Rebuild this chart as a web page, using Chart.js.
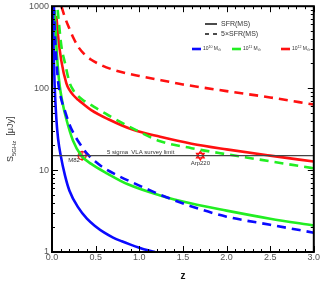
<!DOCTYPE html>
<html>
<head>
<meta charset="utf-8">
<script src="https://cdn.jsdelivr.net/npm/chart.js@4.4.1/dist/chart.umd.min.js"></script>
<style>
  html, body { margin: 0; padding: 0; background: #fff; }
  #wrap { width: 320px; height: 284px; position: relative; }
</style>
</head>
<body>
<div id="wrap"><canvas id="c"></canvas></div>
<script>
// redshift / flux readings (S in microJy)
var blueSfrZ = [0.01, 0.015, 0.02, 0.03, 0.05, 0.07, 0.1, 0.15, 0.2, 0.3, 0.4, 0.5, 0.6, 0.7, 0.8, 0.9, 1.0, 1.1, 1.18];
var blueSfrS = [1000, 450, 250, 110, 42, 24, 15, 8.5, 5.6, 3.5, 2.55, 2.05, 1.72, 1.5, 1.35, 1.23, 1.13, 1.05, 1.0];
var blue5Z = [0.022, 0.03, 0.04, 0.05, 0.07, 0.1, 0.15, 0.2, 0.26, 0.3, 0.41, 0.5, 0.6, 0.75, 0.93, 1.1, 1.24, 1.6, 2.0, 2.5, 3.0];
var blue5S = [1000, 560, 330, 220, 120, 78, 52, 36, 26.5, 22.5, 15.5, 12.6, 10.5, 8.6, 7.0, 5.8, 5.0, 3.6, 2.7, 2.15, 1.72];
var greenSfrZ = [0.031, 0.05, 0.065, 0.088, 0.12, 0.164, 0.24, 0.336, 0.45, 0.64, 0.87, 1.24, 1.6, 2.0, 2.5, 3.0];
var greenSfrS = [900, 330, 190, 107, 67, 42, 23, 15, 11.9, 9.0, 6.7, 4.9, 3.9, 3.2, 2.55, 2.1];
var green5Z = [0.065, 0.107, 0.15, 0.2, 0.25, 0.3, 0.35, 0.45, 0.53, 0.64, 0.93, 1.24, 1.6, 2.0, 2.5, 3.0];
var green5S = [900, 330, 200, 118, 92, 80, 72, 62, 55, 47, 32, 22.5, 18.5, 15.6, 12.8, 10.5];
var redSfrZ = [0.05, 0.07, 0.107, 0.164, 0.2, 0.24, 0.3, 0.336, 0.45, 0.64, 0.93, 1.24, 1.6, 2.0, 2.5, 3.0];
var redSfrS = [760, 430, 215, 115, 95, 83, 72, 67, 54, 42, 31, 25.5, 21, 17.9, 15, 12.7];
var red5Z = [0.107, 0.15, 0.2, 0.25, 0.3, 0.37, 0.45, 0.56, 0.7, 0.85, 1.0, 1.25, 1.5, 2.0, 2.5, 3.0];
var red5S = [1000, 720, 530, 400, 320, 260, 222, 192, 168, 152, 141, 125, 111, 92, 77, 63];

var surveyLimit = 15;
var limitZ = [0, 3];
var sources = ["M82", "Arp220"];
var sourceZ = [0.345, 1.70];
var sourceS = [15, 15];

var xTicks = [0, 0.5, 1.0, 1.5, 2.0, 2.5, 3.0];
var yTicks = [1, 10, 100, 1000];

var BLUE = "#0a0aff", GREEN = "#22ee22", RED = "#ff1010";

function pts(zs, ss) {
    return zs.map(function (z, i) { return {x: z, y: ss[i]}; });
}
function curve(zs, ss, color, dashed) {
    return {
        data: pts(zs, ss),
        borderColor: color,
        borderWidth: 2.6,
        borderDash: dashed ? [9, 6] : [],
        pointRadius: 0,
        fill: false,
        cubicInterpolationMode: "monotone",
        clip: 0
    };
}

//坐标轴刻度、标签、图例等手画
var decor = {
    id: "decor",
    afterDatasetsDraw: function (chart) {
        var ctx = chart.ctx;
        var a = chart.chartArea;
        var xs = chart.scales.x, ys = chart.scales.y;
        ctx.save();

        // inward ticks on all four sides
        ctx.strokeStyle = "#000";
        ctx.lineWidth = 1;
        ctx.beginPath();
        for (var i = 0; i <= 30; i++) {
            var v = i / 10;
            var px = Math.round(xs.getPixelForValue(v)) + 0.5;
            var len = (i % 5 === 0) ? 6 : 3;
            ctx.moveTo(px, a.bottom); ctx.lineTo(px, a.bottom - len);
            ctx.moveTo(px, a.top); ctx.lineTo(px, a.top + len);
        }
        for (var d = 1; d <= 1000; d *= 10) {
            for (var m = 1; m <= 9; m++) {
                var val = d * m;
                if (val > 1000) break;
                var py = Math.round(ys.getPixelForValue(val)) + 0.5;
                var l2 = (m === 1) ? 6 : 3;
                ctx.moveTo(a.left, py); ctx.lineTo(a.left + l2, py);
                ctx.moveTo(a.right, py); ctx.lineTo(a.right - l2, py);
            }
        }
        ctx.stroke();

        // frame
        ctx.lineWidth = 2;
        ctx.strokeRect(a.left, a.top, a.right - a.left, a.bottom - a.top);

        // tick labels
        ctx.fillStyle = "#555";
        ctx.font = '9px "Liberation Sans", Arial, sans-serif';
        ctx.textAlign = "center";
        ctx.textBaseline = "middle";
        xTicks.forEach(function (v) {
            ctx.fillText(v.toFixed(1), xs.getPixelForValue(v), a.bottom + 6);
        });
        ctx.textAlign = "right";
        yTicks.forEach(function (v) {
            ctx.fillText(String(v), a.left - 3, ys.getPixelForValue(v));
        });

        // axis titles
        ctx.fillStyle = "#111";
        ctx.font = 'bold 10px "Liberation Sans", Arial, sans-serif';
        ctx.textAlign = "center";
        ctx.fillText("z", (a.left + a.right) / 2, 276);

        ctx.save();
        ctx.translate(11, 162);
        ctx.rotate(-Math.PI / 2);
        ctx.fillStyle = "#333";
        ctx.textAlign = "left";
        ctx.textBaseline = "middle";
        ctx.font = '9px "Liberation Sans", Arial, sans-serif';
        ctx.fillText("S", 0, 0);
        var w = ctx.measureText("S").width;
        ctx.font = '6px "Liberation Sans", Arial, sans-serif';
        ctx.fillText("5GHz", w, 3);
        w += ctx.measureText("5GHz").width + 5;
        ctx.font = '9px "Liberation Sans", Arial, sans-serif';
        ctx.fillText("[\u03bcJy]", w, 0);
        ctx.restore();

        // survey limit text and source names
        var yl = ys.getPixelForValue(surveyLimit);
        ctx.fillStyle = "#333";
        ctx.font = '6px "Liberation Sans", Arial, sans-serif';
        ctx.textAlign = "left";
        ctx.textBaseline = "alphabetic";
        ctx.fillText("5 sigma  VLA survey limit", 107, yl - 2);
        ctx.textAlign = "center";
        ctx.textBaseline = "middle";
        ctx.fillText(sources[0], xs.getPixelForValue(sourceZ[0]) - 8, ys.getPixelForValue(sourceS[0]) + 5);
        ctx.fillText(sources[1], xs.getPixelForValue(sourceZ[1]), ys.getPixelForValue(sourceS[1]) + 8);

        // legend
        ctx.strokeStyle = "#111";
        ctx.lineWidth = 1.5;
        ctx.beginPath();
        ctx.moveTo(205, 24); ctx.lineTo(217, 24);
        ctx.moveTo(205, 34); ctx.lineTo(209, 34);
        ctx.moveTo(213, 34); ctx.lineTo(217, 34);
        ctx.stroke();
        ctx.fillStyle = "#333";
        ctx.textAlign = "left";
        ctx.font = '7px "Liberation Sans", Arial, sans-serif';
        ctx.fillText("SFR(MS)", 221, 24);
        ctx.fillText("5\u00d7SFR(MS)", 221, 34);

        var items = [[BLUE, "10", 192], [GREEN, "11", 232], [RED, "12", 281]];
        items.forEach(function (it) {
            ctx.strokeStyle = it[0];
            ctx.lineWidth = 2.6;
            ctx.beginPath();
            ctx.moveTo(it[2], 49); ctx.lineTo(it[2] + 9, 49);
            ctx.stroke();
            var x = it[2] + 11;
            ctx.font = '5px "Liberation Sans", Arial, sans-serif';
            ctx.fillText("10", x, 49);
            x += ctx.measureText("10").width;
            ctx.font = '3.6px "Liberation Sans", Arial, sans-serif';
            ctx.fillText(it[1], x, 47.3);
            x += ctx.measureText(it[1]).width + 1.2;
            ctx.font = '5px "Liberation Sans", Arial, sans-serif';
            ctx.fillText("M", x, 49);
            x += ctx.measureText("M").width;
            ctx.font = '3.8px "DejaVu Sans", sans-serif';
            ctx.fillText("\u2299", x, 50.5);
        });
        ctx.restore();
    }
};

var datasets = [
    {
        data: pts(limitZ, [surveyLimit, surveyLimit]),
        borderColor: "#444",
        borderWidth: 1.4,
        pointRadius: 0,
        fill: false
    },
    curve(blueSfrZ, blueSfrS, BLUE, false),
    curve(blue5Z, blue5S, BLUE, true),
    curve(greenSfrZ, greenSfrS, GREEN, false),
    curve(green5Z, green5S, GREEN, true),
    curve(redSfrZ, redSfrS, RED, false),
    curve(red5Z, red5S, RED, true),
    // M82: circle with cross
    {data: [{x: sourceZ[0], y: sourceS[0]}], showLine: false, pointStyle: "circle", pointRadius: 4,
        pointBorderColor: RED, pointBackgroundColor: "rgba(255,80,80,0.25)", pointBorderWidth: 1.2},
    {data: [{x: sourceZ[0], y: sourceS[0]}], showLine: false, pointStyle: "cross", pointRadius: 5,
        pointBorderColor: RED, pointBorderWidth: 1.2},
    // Arp220: two triangles
    {data: [{x: sourceZ[1], y: sourceS[1]}], showLine: false, pointStyle: "triangle", pointRadius: 4.5,
        pointBorderColor: RED, pointBackgroundColor: "rgba(0,0,0,0)", pointBorderWidth: 1.2},
    {data: [{x: sourceZ[1], y: sourceS[1]}], showLine: false, pointStyle: "triangle", pointRadius: 4.5, pointRotation: 180,
        pointBorderColor: RED, pointBackgroundColor: "rgba(0,0,0,0)", pointBorderWidth: 1.2}
];

var ctx = document.getElementById("c").getContext("2d");
var myChart = new Chart(ctx, {
    type: "line",
    data: {datasets: datasets},
    plugins: [decor],
    options: {
        responsive: true,
        maintainAspectRatio: false,
        animation: false,
        layout: {padding: {left: 52, right: 6, top: 5, bottom: 32}},
        plugins: {legend: {display: false}, tooltip: {enabled: false}},
        scales: {
            x: {type: "linear", min: 0, max: 3, display: false},
            y: {type: "logarithmic", min: 1, max: 1000, display: false}
        }
    }
});
</script>
</body>
</html>
